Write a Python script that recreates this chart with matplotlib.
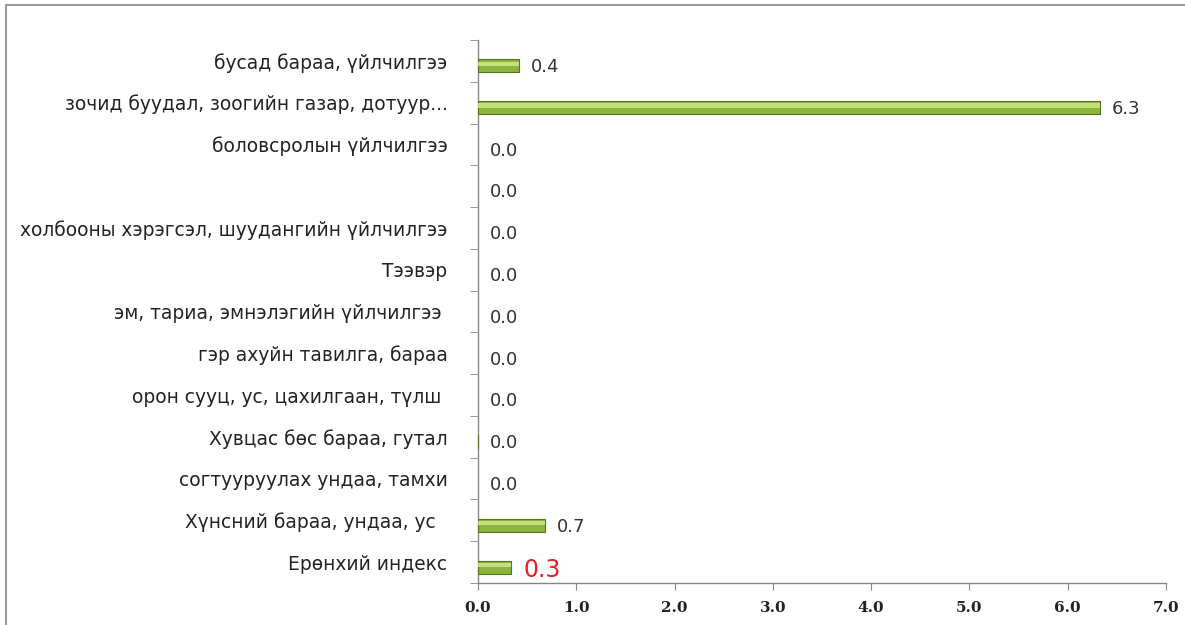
import matplotlib

matplotlib.use("Agg")
import matplotlib.pyplot as plt  # noqa: E402
from matplotlib.patches import Rectangle  # noqa: E402

# өгөгдөл (доороос дээш)
categories = [
    "Ерөнхий индекс",
    "Хүнсний бараа, ундаа, ус  ",
    "согтууруулах ундаа, тамхи",
    "Хувцас бөс бараа, гутал",
    "орон сууц, ус, цахилгаан, түлш ",
    "гэр ахуйн тавилга, бараа",
    "эм, тариа, эмнэлэгийн үйлчилгээ ",
    "Тээвэр",
    "холбооны хэрэгсэл, шуудангийн үйлчилгээ",
    "",
    "боловсролын үйлчилгээ",
    "зочид буудал, зоогийн газар, дотуур...",
    "бусад бараа, үйлчилгээ",
]
values = [0.34, 0.68, 0.0, -0.02, 0.0, 0.0, 0.0, 0.0, 0.0, 0.0, 0.0, 6.33, 0.42]
labels = ["0.3", "0.7", "0.0", "0.0", "0.0", "0.0", "0.0", "0.0", "0.0", "0.0", "0.0", "6.3", "0.4"]
xticks = [0, 1, 2, 3, 4, 5, 6, 7]

W, H, DPI = 1185, 625, 100
BAR_C = "#8CB53E"
EDGE_C = "#55741D"
HILITE = "#D2EC8C"
AXIS_C = "#868686"

fig = plt.figure(figsize=(W / DPI, H / DPI), dpi=DPI)
fig.patch.set_facecolor("white")
ax = fig.add_axes((478 / W, 1 - 583 / H, (1166 - 478) / W, (583 - 40) / H))

ypos = list(range(len(categories)))
shift = -0.12  # полосууд төвөөс бага зэрэг доош
edges = [EDGE_C if v != 0 else "none" for v in values]
ax.barh([y + shift for y in ypos], values, height=0.31, color=BAR_C,
        edgecolor=edges, linewidth=0.8, zorder=3)
# гялбаа
ax.barh([y + shift + 0.05 for y in ypos], values, height=0.1, color=HILITE,
        linewidth=0, alpha=0.8, zorder=4)

for y, v, lab in zip(ypos, values, labels):
    x = max(v, 0) + 0.12
    if y == 0:
        ax.text(x, y - 0.2, lab, color="#E8202A", fontsize=17,
                ha="left", va="center", zorder=5)
    else:
        ax.text(x, y - 0.15, lab, color="#333333", fontsize=13,
                ha="left", va="center", zorder=5)

ax.set_xlim(0, 7)
ax.set_ylim(-0.5, len(categories) - 0.5)
ax.set_xticks(xticks)
ax.set_xticklabels([f"{t:.1f}" for t in xticks], family="DejaVu Serif",
                   fontweight="bold", fontsize=11, color="#222222")
ax.set_yticks(ypos)
ax.set_yticklabels(categories, fontsize=13.4, color="#222222")
ax.set_yticks([y - 0.5 for y in range(len(categories) + 1)], minor=True)
ax.tick_params(axis="y", which="major", length=0, pad=22)
ax.tick_params(axis="y", which="minor", length=6, color=AXIS_C, direction="out")
ax.tick_params(axis="x", length=5, color=AXIS_C, direction="out", pad=8)

for side in ("top", "right"):
    ax.spines[side].set_visible(False)
for side in ("left", "bottom"):
    ax.spines[side].set_color(AXIS_C)
    ax.spines[side].set_linewidth(1.0)

# хүрээ
fig.patches.append(Rectangle((6 / W, -0.05), 1.1, 1 - 5 / H + 0.05,
                             transform=fig.transFigure, fill=False,
                             edgecolor="#9A9A9A", linewidth=1.5))

fig.savefig("out.png", dpi=DPI)
